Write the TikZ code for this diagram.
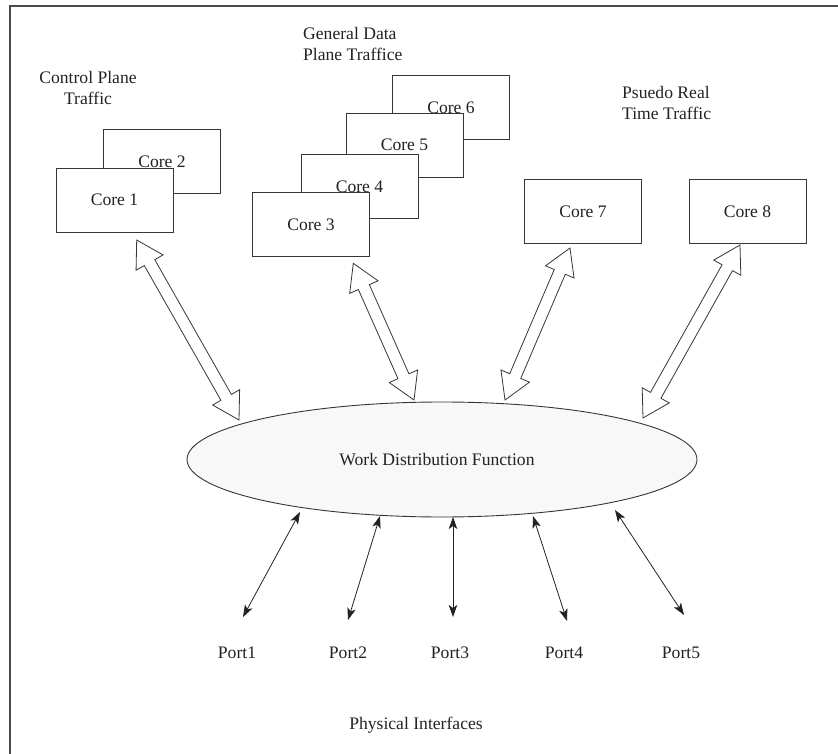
\documentclass[tikz,border=0pt]{standalone}
\usepackage{fontspec}
\setmainfont{Liberation Serif}
\usetikzlibrary{shapes.geometric,calc,arrows.meta}
\definecolor{ln}{HTML}{363636}
\definecolor{tx}{HTML}{222222}
\definecolor{ellfill}{HTML}{F8F8F8}
\newcommand{\blockarr}[2]{%
  \coordinate (#1-#2-p) at ($(#1)!26pt!(#2)$);
  \coordinate (#1-#2-q) at ($(#2)!26pt!(#1)$);
  \draw[blk] (#1)
   -- ($(#1-#2-p)!15.5pt!90:(#2)$)
   -- ($(#1-#2-p)!6pt!90:(#2)$)
   -- ($(#1-#2-q)!6pt!-90:(#1)$)
   -- ($(#1-#2-q)!15.5pt!-90:(#1)$)
   -- (#2)
   -- ($(#1-#2-q)!15.5pt!90:(#1)$)
   -- ($(#1-#2-q)!6pt!90:(#1)$)
   -- ($(#1-#2-p)!6pt!-90:(#2)$)
   -- ($(#1-#2-p)!15.5pt!-90:(#2)$)
   -- cycle;}
\begin{document}
\begin{tikzpicture}[x=1pt,y=-1pt,
  every node/.style={text=tx,font=\fontsize{17.6}{21}\selectfont},
  core/.style={draw=ln,line width=0.9pt,fill=white,minimum width=117pt,minimum height=64pt,inner sep=0pt},
  lbl/.style={align=center,inner sep=0pt},
  lbll/.style={align=left,anchor=west,inner sep=0pt},
  blk/.style={draw=ln,line width=0.8pt,fill=white,line join=miter},
  port/.style={draw=tx,line width=0.8pt,{Stealth[length=12pt,width=8.5pt,inset=3pt]}-{Stealth[length=12pt,width=8.5pt,inset=3pt]}},
  frame/.style={draw=ln!90,line width=1.3pt}]
\useasboundingbox (0,0) rectangle (838,754);
\draw[frame] (10,754) -- (10,6) -- (838,6);

% labels
\node[lbl] (lcp) at (88,87.5) {Control Plane\\Traffic};
\node[lbll] (lgd) at (303,43.5) {General Data\\Plane Traffice};
\node[lbll] (lrt) at (622,102.5) {Psuedo Real\\Time Traffic};

% cores
\node[core] (c2) at (162,161.5) {Core 2};
\node[core] (c1) at (114.5,200) {Core 1};
\node[core] (c6) at (451,107.5) {Core 6};
\node[core] (c5) at (404.5,145) {Core 5};
\node[core] (c4) at (359.5,186.5) {Core 4};
\node[core] (c3) at (311,224.5) {Core 3};
\node[core] (c7) at (583,211.5) {Core 7};
\node[core] (c8) at (747.5,211.5) {Core 8};

% ellipse
\node[ellipse,draw=ln,line width=0.9pt,fill=ellfill,minimum width=510pt,minimum height=115pt,inner sep=0pt] (wdf) at (442,459.5) {};
\node (wdft) at (437,460) {Work Distribution Function};

% block arrows
\coordinate (a1t) at (136.7,240);
\coordinate (a1b) at (239,420);
\coordinate (a2t) at (353.3,263.3);
\coordinate (a2b) at (414,400);
\coordinate (a3t) at (570,248);
\coordinate (a3b) at (505,400);
\coordinate (a4t) at (740,245);
\coordinate (a4b) at (643,418);
\blockarr{a1t}{a1b}
\blockarr{a2t}{a2b}
\blockarr{a3t}{a3b}
\blockarr{a4t}{a4b}

% ports
\node (p1) at (237,653) {Port1};
\node (p2) at (348,653) {Port2};
\node (p3) at (450,653) {Port3};
\node (p4) at (564,653) {Port4};
\node (p5) at (681,653) {Port5};
\node (phy) at (416,725) {Physical Interfaces};

\coordinate (e1) at (300,512);
\coordinate (e2) at (380,516);
\coordinate (e3) at (453,517);
\coordinate (e4) at (533,516);
\coordinate (e5) at (615,510);
\coordinate (q1) at (243,617);
\coordinate (q2) at (348,620);
\coordinate (q3) at (453,617);
\coordinate (q4) at (567,621);
\coordinate (q5) at (684,615);
\draw[port] (e1) -- (q1);
\draw[port] (e2) -- (q2);
\draw[port] (e3) -- (q3);
\draw[port] (e4) -- (q4);
\draw[port] (e5) -- (q5);
\end{tikzpicture}
\end{document}
